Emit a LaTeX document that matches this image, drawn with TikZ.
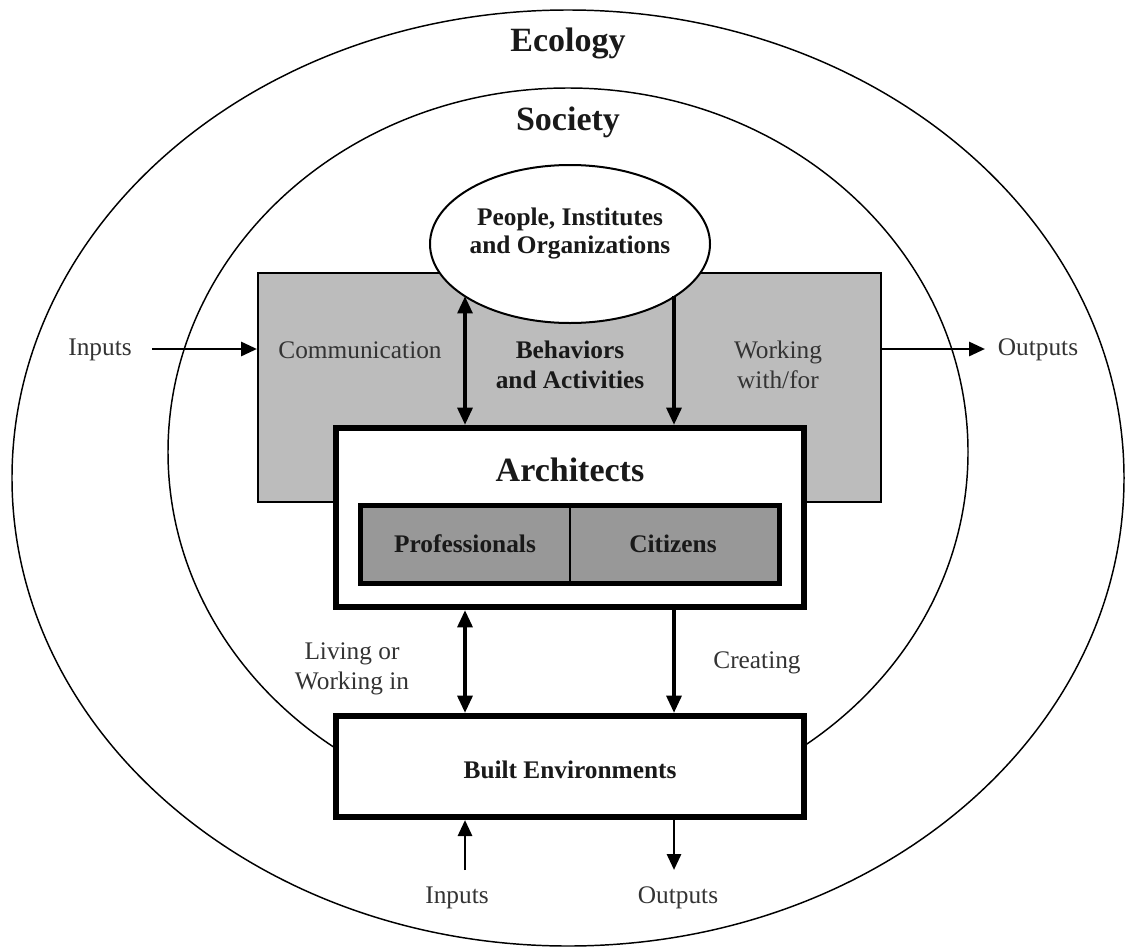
\documentclass[tikz,border=0pt]{standalone}
\usepackage{fontspec}
\setmainfont{Liberation Serif}
\usepackage{xcolor}
\usetikzlibrary{arrows.meta,fit,shapes.geometric}

\definecolor{behavgray}{RGB}{188,188,188}
\definecolor{rolegray}{RGB}{152,152,152}

\tikzset{
  ring/.style={line width=1.1pt},
  lbl/.style={font=\fontsize{19}{22.5}\selectfont, align=center, text=black!80},
  blbl/.style={font=\fontsize{19}{21}\selectfont\bfseries, align=center, text=black!90},
  ttl/.style={font=\fontsize{25.5}{30}\selectfont\bfseries, text=black!90},
  behavbox/.style={draw, line width=1.5pt, fill=behavgray, inner sep=0pt},
  archbox/.style={draw, line width=4.5pt, fill=white, inner sep=0pt},
  rolebox/.style={draw, line width=3.75pt, fill=rolegray, inner sep=0pt},
  orgellipse/.style={ellipse, draw, line width=1.5pt, fill=white, inner sep=0pt,
    minimum width=210pt, minimum height=118.5pt},
  bigarrow/.style={line width=3pt, >={Triangle[length=13pt,width=11pt]}},
  sidearrow/.style={line width=2.2pt, -{Triangle[length=12pt,width=10.5pt]}}
}

\begin{document}
\begin{tikzpicture}[x=0.75pt,y=0.75pt,yscale=-1]
\useasboundingbox (0,0) rectangle (1126,949);

%Shape: Ellipse [ecology]
\draw[ring] (568,478) ellipse (556 and 468);
%Shape: Ellipse [society]
\draw[ring] (568,452) ellipse (400 and 364);

% Text Node
\node[ttl] (ecology) at (568,43) {Ecology};
% Text Node
\node[ttl] (society) at (568,122) {Society};

%Shape: Rectangle [behaviors]
\node[behavbox, fit={(258,273) (881,502)}] (behav) {};
%Shape: Ellipse [people]
\node[orgellipse] (people) at (570,244) {};
% Text Node
\node[blbl] (peopletxt) at (570,234) {People, Institutes\\and Organizations};

% Text Node
\node[lbl] (comm) at (360,350) {Communication};
% Text Node
\node[blbl, font=\fontsize{19}{22.5}\selectfont\bfseries] (behavtxt) at (570,365) {Behaviors\\and Activities};
% Text Node
\node[lbl] (workfor) at (778,365) {Working\\with/for};

%Shape: Rectangle [architects]
\node[archbox, fit={(336,428) (804,607)}] (arch) {};
% Text Node
\node[ttl] (archtxt) at (570,470) {Architects};
%Shape: Rectangle [roles]
\node[rolebox, fit={(360.5,505.5) (779.5,583.5)}] (roles) {};
\draw[line width=1.5pt] (roles.north) -- (roles.south);
% Text Node
\node[blbl] (prof) at (465,544) {Professionals};
% Text Node
\node[blbl] (citi) at (673,544) {Citizens};

%Shape: Rectangle [built environments]
\node[archbox, fit={(336,716) (804,817)}] (built) {};
% Text Node
\node[blbl] (builttxt) at (570,770) {Built Environments};

% Text Node
\node[lbl] (living) at (352,669) {Living or\\Working in};
% Text Node
\node[lbl] (creating) at (757,663) {Creating};

% Text Node
\node[lbl] (inL) at (100,350) {Inputs};
% Text Node
\node[lbl] (outR) at (1038,350) {Outputs};
% Text Node
\node[lbl] (inB) at (457,898) {Inputs};
% Text Node
\node[lbl] (outB) at (678,898) {Outputs};

% arrow columns and free ends
\coordinate (lx) at (465,0);
\coordinate (rx) at (674,0);
\coordinate (inLend) at (152,349);
\coordinate (outRend) at (985,349);
\coordinate (inBend) at (465,870);
\coordinate (outBend) at (674,870);

%Straight Lines
\draw[bigarrow, <->] (people.206.5 -| lx) -- (arch.north -| lx);
\draw[bigarrow, ->] (people.-26.5 -| rx) -- (arch.north -| rx);
\draw[bigarrow, <->] (arch.south -| lx) -- (built.north -| lx);
\draw[bigarrow, ->] (arch.south -| rx) -- (built.north -| rx);

%Straight Lines
\draw[sidearrow] (inLend) -- (inLend -| behav.west);
\draw[sidearrow] (outRend -| behav.east) -- (outRend);
\draw[sidearrow] (inBend) -- (built.south -| lx);
\draw[sidearrow] (built.south -| rx) -- (outBend);

\end{tikzpicture}
\end{document}
